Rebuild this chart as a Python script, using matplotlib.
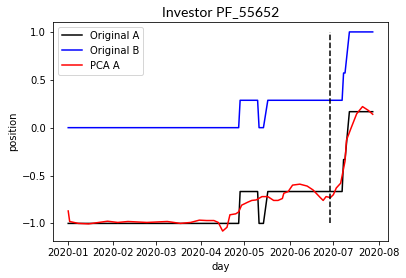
import numpy as np
import pandas as pd
import matplotlib
matplotlib.use("Agg")
import matplotlib.pyplot as plt
import matplotlib.dates as mdates

start = pd.Timestamp("2020-01-01")

# Original A (days since 2020-01-01, position)
a_days = [0, 117, 118, 130, 131, 134, 137, 188, 189, 190, 193, 209]
a_vals = [-1, -1, -0.667, -0.667, -1, -1, -0.667, -0.667, -0.333, -0.333, 0.167, 0.167]

# Original B
b_days = [0, 117, 118, 130, 131, 134, 137, 188, 189, 190, 193, 209]
b_vals = [0, 0, 0.286, 0.286, 0, 0, 0.286, 0.286, 0.571, 0.571, 1.0, 1.0]

# PCA A
p_days = [0, 1, 7, 14, 27, 34, 41, 54, 68, 77, 84, 90, 95, 100, 103, 106, 109,
          111, 115, 117, 119, 123, 126, 129, 133, 137, 141, 144, 147, 148, 151,
          154, 159, 164, 168, 173, 175, 177, 180, 182, 184, 187, 190, 191, 194,
          198, 202, 206, 209]
p_vals = [-0.87, -0.98, -1.0, -1.005, -0.977, -0.99, -0.98, -0.99, -0.98, -1.0,
          -0.99, -0.966, -0.97, -0.97, -0.99, -1.08, -1.04, -0.91, -0.90, -0.88,
          -0.81, -0.78, -0.76, -0.755, -0.72, -0.72, -0.76, -0.76, -0.74, -0.685,
          -0.667, -0.60, -0.59, -0.61, -0.65, -0.73, -0.76, -0.72, -0.73, -0.70,
          -0.63, -0.58, -0.35, -0.13, -0.01, 0.145, 0.22, 0.18, 0.14]

split_day = 180

def to_dates(days):
    return [start + pd.Timedelta(days=d) for d in days]

fig = plt.figure(figsize=(406 / 72, 278 / 72), dpi=72)
ax = fig.add_axes([0.1305, 0.133, 0.825, 0.788])

ax.plot(to_dates(a_days), a_vals, color="black", label="Original A")
ax.plot(to_dates(b_days), b_vals, color="blue", label="Original B")
ax.plot(to_dates(p_days), p_vals, color="red", label="PCA A")
split = start + pd.Timedelta(days=split_day)
ax.vlines(split, -1, 1, colors="black", linestyles="--")

ax.xaxis.set_major_locator(mdates.MonthLocator())
ax.xaxis.set_major_formatter(mdates.DateFormatter("%Y-%m"))
ax.set_xlabel("day")
ax.set_ylabel("position")
ax.set_title("Investor PF_55652", fontsize=14, family="Lato")
ax.legend(loc="upper left")

fig.savefig("out.png", dpi=72)
